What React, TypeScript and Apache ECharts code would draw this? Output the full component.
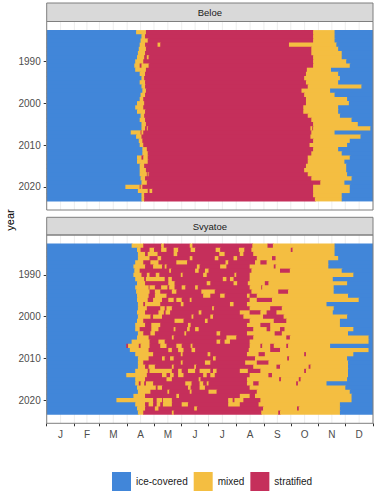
import React, { useEffect, useRef } from "react";
import * as echarts from "echarts";

// Years shown on each panel (one row of tiles per year)
const years: number[] = Array.from({ length: 41 }, (_, i) => 1983 + i);

const monthLabels = ["J", "F", "M", "A", "M", "J", "J", "A", "S", "O", "N", "D"];
const monthStarts = [0, 31, 59, 90, 120, 151, 181, 212, 243, 273, 304, 334, 365];
const yearTicks = [1990, 2000, 2010, 2020];

const stateKeys = ["I", "M", "S"];
const stateNames = ["ice-covered", "mixed", "stratified"];
const stateColors = ["#4186D9", "#F4BE41", "#C52F5B"];

// Daily lake state per year as runs: state letter + last day-of-year of the run
// I = ice-covered, M = mixed, S = stratified
const beloe: string[] = [
  "I100 M111 S298 M322 I365",
  "I106 M110 S298 M322 I365",
  "I105 M113 S298 M322 I365",
  "I104 M110 S124 M127 S271 M324 I365",
  "I103 M111 S296 M326 I365",
  "I102 M110 S296 M330 I365",
  "I101 M109 S112 M114 S298 M330 I365",
  "I99 M108 S298 M335 I365",
  "I98 M104 S106 M114 S298 M339 I365",
  "I99 M111 S291 M318 I365",
  "I104 M110 S290 M326 I365",
  "I106 M109 S288 M328 I365",
  "I104 M110 S290 M326 I365",
  "I106 M110 S292 M352 I365",
  "I107 M111 S285 M317 I365",
  "I105 M110 S288 M322 I365",
  "I104 M108 S290 M336 I365",
  "I101 M109 S290 M338 I365",
  "I99 M108 S287 M326 I365",
  "I101 M110 S287 M326 I365",
  "I105 M109 S292 M328 I365",
  "I104 M110 S296 M341 I365",
  "I106 M111 S298 M348 I365",
  "I106 M110 S112 M113 S295 M297 S298 M362 I365",
  "I94 M105 S106 M108 S296 M322 I365",
  "I100 M106 S295 M351 I365",
  "I103 M107 S298 M339 I365",
  "I104 M108 S294 M336 I365",
  "I107 M112 S298 M326 I365",
  "I107 M113 S296 M330 I365",
  "I101 M106 S108 M113 S292 M339 I365",
  "I101 M113 S292 M333 I365",
  "I104 M109 S290 M335 I365",
  "I104 M111 S288 M335 I365",
  "I104 M112 S113 M114 S292 M336 I365",
  "I105 M110 S296 M341 I365",
  "I106 M112 S306 M333 I365",
  "I88 M104 S105 M107 S298 M339 I365",
  "I102 M113 S115 M118 S298 M339 I365",
  "I106 M109 S298 M330 I365",
  "I106 M109 S300 M330 I365",
];

const svyatoe: string[] = [
  "I95 M108 S128 M131 S160 M163 S230 M247 S253 M322 I365",
  "I101 M105 S115 M120 S128 M134 S142 M147 S161 M166 S189 M194 S215 M221 S229 M273 S275 M322 I365",
  "I102 M110 S113 M124 S142 M146 S193 M199 S216 M220 S231 M322 I365",
  "I102 M115 S124 M128 S160 M163 S188 M192 S209 M213 S235 M252 S256 M326 I365",
  "I99 M108 S116 M125 S145 M157 S200 M203 S233 M239 S246 M315 I365",
  "I97 M110 S119 M129 S132 M134 S168 M171 S194 M201 S227 M254 S256 M315 I365",
  "I98 M104 S137 M139 S166 M170 S177 M181 S229 M261 S272 M330 I365",
  "I97 M106 S112 M115 S122 M126 S150 M152 S175 M179 S210 M212 S227 M343 I365",
  "I99 M109 S111 M132 S136 M140 S197 M201 S205 M209 S227 M320 I365",
  "I101 M110 S136 M143 S179 M183 S209 M213 S225 M244 S248 M336 I365",
  "I99 M114 S115 M121 S128 M135 S137 M143 S151 M155 S166 M169 S227 M240 S241 M321 I365",
  "I100 M115 S121 M127 S140 M145 S173 M188 S229 M259 S270 M321 I365",
  "I101 M114 S121 M134 S175 M183 S194 M199 S224 M227 S235 M337 I365",
  "I101 M113 S119 M129 S136 M142 S145 M151 S160 M162 S227 M235 S252 M349 I365",
  "I102 M108 S110 M127 S150 M153 S205 M209 S224 M313 I365",
  "I102 M112 S127 M132 S134 M140 S185 M187 S227 M250 S263 M321 I365",
  "I101 M110 S125 M131 S133 M138 S170 M173 S216 M227 S239 M246 S257 M320 I365",
  "I102 M116 S119 M129 S162 M164 S183 M186 S220 M242 S265 M336 I365",
  "I101 M108 S143 M153 S177 M180 S227 M254 S268 M328 I365",
  "I99 M110 S117 M127 S158 M161 S224 M239 S250 M328 I365",
  "I99 M104 S117 M125 S142 M144 S157 M160 S166 M170 S231 M246 S250 M261 S266 M343 I365",
  "I102 M108 S116 M121 S154 M156 S190 M194 S224 M255 S263 M337 I365",
  "I101 M114 S140 M142 S201 M212 S231 M268 S272 M360 I365",
  "I95 M115 S125 M132 S190 M194 S199 M205 S227 M360 I365",
  "I89 S91 M103 S105 M115 S127 M134 S145 M151 S161 M163 S227 M239 S241 M250 S254 M268 S270 M317 I365",
  "I93 M114 S136 M140 S147 M153 S162 M166 S226 M250 S261 M360 I365",
  "I99 M119 S150 M152 S180 M183 S224 M237 S244 M288 S290 M343 I365",
  "I102 M114 S129 M132 S138 M142 S186 M189 S233 M269 S271 M336 I365",
  "I102 M108 S150 M152 S177 M183 S222 M235 S248 M337 I365",
  "I102 M110 S114 M121 S140 M142 S165 M167 S231 M257 S261 M293 S295 M337 I365",
  "I99 M113 S115 M140 S147 M151 S158 M166 S171 M183 S186 M190 S216 M225 S239 M288 S290 M337 I365",
  "I89 M112 S129 M134 S138 M142 S147 M153 S175 M179 S183 M188 S227 M248 S252 M337 I365",
  "I99 M110 S134 M140 S170 M172 S224 M260 S262 M282 S284 M336 I365",
  "I99 M103 S105 M109 S111 M119 S155 M162 S171 M175 S179 M181 S224 M231 S237 M279 S281 M313 I365",
  "I101 M122 S124 M129 S158 M161 S171 M177 S227 M334 I365",
  "I102 M116 S135 M137 S160 M162 S181 M190 S235 M339 I365",
  "I97 M110 S145 M148 S216 M227 S233 M341 I365",
  "I78 M119 S123 M129 S130 M140 S203 M208 S210 M220 S239 M341 I365",
  "I99 M110 S114 M119 S123 M127 S130 M140 S151 M158 S203 M216 S237 M328 I365",
  "I101 M110 S121 M125 S165 M168 S242 M280 S282 M328 I365",
  "I102 M108 S140 M142 S240 M259 S261 M328 I365",
];

const lakes = [
  { name: "Beloe", rows: beloe },
  { name: "Svyatoe", rows: svyatoe },
];

const FONT = "Liberation Sans, Arial, Helvetica, sans-serif";
const Y_MIN = 1980.45;
const Y_MAX = 2025.55;

// Panel placement (pixels)
const PANEL_LEFT = 46.7;
const PANEL_WIDTH = 326.3;
const panels = [
  { stripTop: 3, top: 21.5, height: 188.5 },
  { stripTop: 217.3, top: 235, height: 188.3 },
];

// Expand run strings into [year, startDay, endDay, stateIndex] tiles
function toTiles(rows: string[]): number[][] {
  const out: number[][] = [];
  rows.forEach((row, i) => {
    let prev = 0;
    row.split(" ").forEach((tok) => {
      const s = stateKeys.indexOf(tok[0]);
      const end = Number(tok.slice(1));
      out.push([years[i], prev, end, s]);
      prev = end;
    });
  });
  return out;
}

const monthMids = monthLabels.map((_, i) => (monthStarts[i] + monthStarts[i + 1]) / 2);
const gridDays = [...monthStarts, ...monthMids];
const lastYear = years[years.length - 1];

const renderTile = (params: any, api: any) => {
  const y = api.value(0);
  const x0 = api.value(1);
  const x1 = api.value(2);
  const s = api.value(3);
  const a = api.coord([x0, y - 0.5]);
  const b = api.coord([x1, y + 0.5]);
  // slight overlap with the next tile so no seams show between neighbours
  const padX = x1 < 365 ? 0.8 : 0;
  const padY = y < lastYear ? 0.9 : 0;
  return {
    type: "rect",
    shape: {
      x: a[0],
      y: Math.min(a[1], b[1]),
      width: b[0] - a[0] + padX,
      height: Math.abs(b[1] - a[1]) + padY,
    },
    style: { fill: stateColors[s] },
  };
};

const renderGridLine = (params: any, api: any) => {
  const x = api.coord([api.value(0), 2000])[0];
  const cs = params.coordSys;
  return {
    type: "line",
    shape: { x1: x, y1: cs.y, x2: x, y2: cs.y + cs.height },
    style: { stroke: "#e8e8e8", lineWidth: 0.8 },
  };
};

export default function App() {
  const ref = useRef<HTMLDivElement>(null);

  useEffect(() => {
    if (!ref.current) return;
    const chart = echarts.init(ref.current, undefined, { renderer: "svg" });

    const grids = panels.map((p) => ({
      left: PANEL_LEFT,
      top: p.top,
      width: PANEL_WIDTH,
      height: p.height,
      show: true,
      backgroundColor: "#ffffff",
      borderWidth: 0,
    }));

    const xAxes = panels.map((_, gi) => {
      const bottom = gi === panels.length - 1;
      return {
        type: "value",
        gridIndex: gi,
        min: 0,
        max: 365,
        axisLine: { show: false },
        splitLine: { show: false },
        axisTick: {
          show: bottom,
          customValues: monthStarts,
          length: 3,
          lineStyle: { color: "#333333", width: 1 },
        },
        axisLabel: {
          show: bottom,
          customValues: monthMids,
          margin: 6,
          fontSize: 10,
          fontFamily: FONT,
          color: "#4d4d4d",
          formatter: (v: number) => {
            const i = monthMids.findIndex((m) => Math.abs(m - v) < 0.01);
            return i >= 0 ? monthLabels[i] : "";
          },
        },
      };
    });

    const yAxes = panels.map((_, gi) => ({
      type: "value",
      gridIndex: gi,
      inverse: true,
      min: Y_MIN,
      max: Y_MAX,
      axisLine: { show: false },
      splitLine: { show: false },
      axisTick: {
        show: true,
        customValues: yearTicks,
        length: 3,
        lineStyle: { color: "#333333", width: 1 },
      },
      axisLabel: {
        customValues: yearTicks,
        margin: 6,
        fontSize: 10,
        fontFamily: FONT,
        color: "#4d4d4d",
        formatter: (v: number) => String(Math.round(v)),
      },
    }));

    const series: any[] = [];
    lakes.forEach((lake, gi) => {
      series.push({
        type: "custom",
        name: lake.name + " grid",
        xAxisIndex: gi,
        yAxisIndex: gi,
        silent: true,
        z: 1,
        data: gridDays.map((d) => [d]),
        encode: { x: 0 },
        renderItem: renderGridLine,
      });
      series.push({
        type: "custom",
        name: lake.name,
        xAxisIndex: gi,
        yAxisIndex: gi,
        silent: true,
        z: 2,
        data: toTiles(lake.rows),
        encode: { x: [1, 2], y: 0 },
        renderItem: renderTile,
      });
    });
    // legend entries
    stateNames.forEach((name, i) => {
      series.push({
        type: "custom",
        name,
        xAxisIndex: 1,
        yAxisIndex: 1,
        data: [],
        itemStyle: { color: stateColors[i] },
        renderItem: () => null,
      });
    });

    const graphic: any[] = [];
    panels.forEach((p, gi) => {
      graphic.push({
        type: "rect",
        shape: { x: PANEL_LEFT, y: p.stripTop, width: PANEL_WIDTH, height: p.top - p.stripTop },
        style: { fill: "#d9d9d9", stroke: "#7f7f7f", lineWidth: 1 },
        z: 10,
      });
      graphic.push({
        type: "text",
        x: PANEL_LEFT + PANEL_WIDTH / 2,
        y: (p.stripTop + p.top) / 2,
        style: {
          text: lakes[gi].name,
          fontSize: 9.5,
          fontFamily: FONT,
          fill: "#1a1a1a",
          align: "center",
          verticalAlign: "middle",
        },
        z: 11,
      });
      graphic.push({
        type: "rect",
        shape: { x: PANEL_LEFT, y: p.top, width: PANEL_WIDTH, height: p.height },
        style: { fill: "none", stroke: "#7f7f7f", lineWidth: 1 },
        z: 10,
      });
    });
    graphic.push({
      type: "text",
      x: 10,
      y: 220,
      rotation: Math.PI / 2,
      style: {
        text: "year",
        fontSize: 11,
        fontFamily: FONT,
        fill: "#000000",
        align: "center",
        verticalAlign: "middle",
      },
    });

    chart.setOption({
      animation: false,
      backgroundColor: "#ffffff",
      grid: grids,
      xAxis: xAxes,
      yAxis: yAxes,
      legend: {
        left: 107,
        top: 467,
        itemWidth: 19,
        itemHeight: 19,
        itemGap: 6,
        icon: "rect",
        selectedMode: false,
        data: stateNames,
        textStyle: { fontSize: 10, fontFamily: FONT, color: "#1a1a1a" },
      },
      graphic,
      series,
    });

    return () => chart.dispose();
  }, []);

  return (
    <div
      ref={ref}
      style={{ position: "absolute", left: 0, top: 0, width: 383, height: 500 }}
    />
  );
}
